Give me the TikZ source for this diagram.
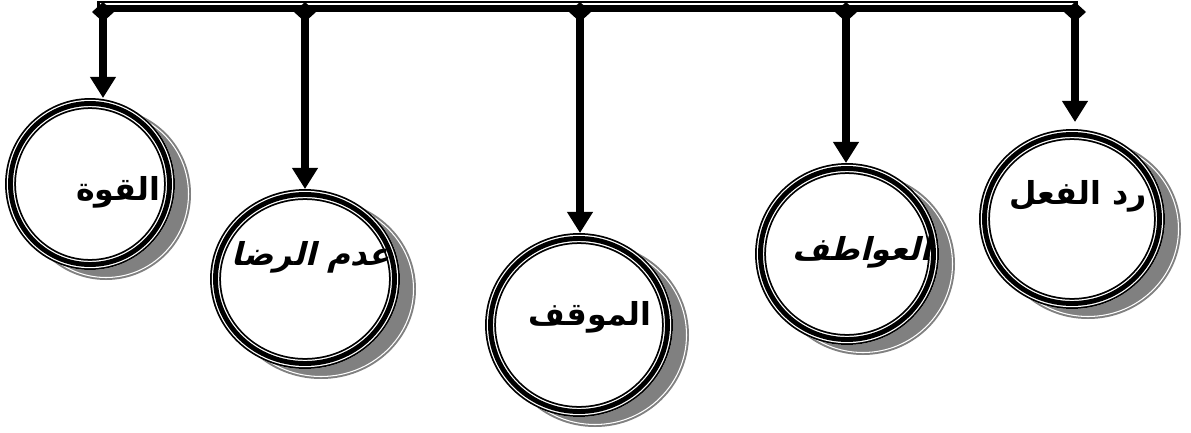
\documentclass[tikz,border=0pt]{standalone}
\usepackage{fontspec}
\usetikzlibrary{arrows.meta,shapes.geometric}
\TeXXeTstate=1
\newfontfamily\arabicfont[Script=Arabic]{DejaVu Sans}
\newfontfamily\arabicslant[Script=Arabic,BoldFeatures={FakeSlant=0.25}]{DejaVu Sans}

\tikzset{
  bub/.style={ellipse, inner sep=0pt, outer sep=0pt},
  lbl/.style={font=\arabicfont\bfseries\fontsize{18}{21}\selectfont},
  lblit/.style={font=\arabicslant\bfseries\fontsize{18}{21}\selectfont},
  arr/.style={line width=4.6pt, -{Triangle[width=14pt,length=12pt]}},
  shadowfill/.style={fill=gray},
}

\begin{document}
\begin{tikzpicture}[x=0.02cm, y=-0.02cm]
			\useasboundingbox (0,0) rectangle (1191,433);

			% top bar
			\coordinate (j1) at (103,12);
			\coordinate (j2) at (305,12);
			\coordinate (j3) at (580,12);
			\coordinate (j4) at (846,12);
			\coordinate (j5) at (1075,12);

			\fill (97,1) rectangle (1078,12);
			\draw[white, line width=0.9pt] (100,4) -- (1075,4);
			\foreach \j in {j1,j2,j3,j4,j5}{
				\fill (\j) +(-11,0) -- +(0,-10) -- +(11,0) -- +(0,10) -- cycle;
			}

			% circles
			\foreach \n/\x/\y/\a/\b in {c1/90/184/85/86, c2/305/279/95/90, c3/579/325/94/92, c4/847/254/92/91, c5/1072/219/93/90}{
				\fill[shadowfill] (\x+16,\y+10) ellipse [x radius=\a, y radius=\b];
				\draw[white, line width=0.6pt] (\x+16,\y+10) ellipse [x radius=\a-2.5, y radius=\b-2.5];
				\node[bub, fill=white, minimum width=0.04cm*\a, minimum height=0.04cm*\b] (\n) at (\x,\y) {};
				\draw[line width=6.2pt] (\n.center) ellipse [x radius=\a-5.5, y radius=\b-5.5];
				\draw[white, line width=4.2pt] (\n.center) ellipse [x radius=\a-5.5, y radius=\b-5.5];
				\draw[line width=2.8pt] (\n.center) ellipse [x radius=\a-5.5, y radius=\b-5.5];
			}

			% arrows
			\draw[arr] (j1) -- (j1 |- c1.north);
			\draw[arr] (j2) -- (j2 |- c2.north);
			\draw[arr] (j3) -- (j3 |- c3.north);
			\draw[arr] (j4) -- (j4 |- c4.north);
			\draw[arr, shorten >=0.14cm] (j5) -- (j5 |- c5.north);

			% labels
			\node[lbl] (t1) at (118,192) {\beginR القوة\endR};
			\node[lblit] (t2) at (311,257) {\beginR عدم الرضا\endR};
			\node[lbl] (t3) at (590,317) {\beginR الموقف\endR};
			\node[lblit] (t4) at (862,252) {\beginR العواطف\endR};
			\node[lbl] (t5) at (1078,196) {\beginR رد الفعل\endR};
		\end{tikzpicture}
\end{document}
